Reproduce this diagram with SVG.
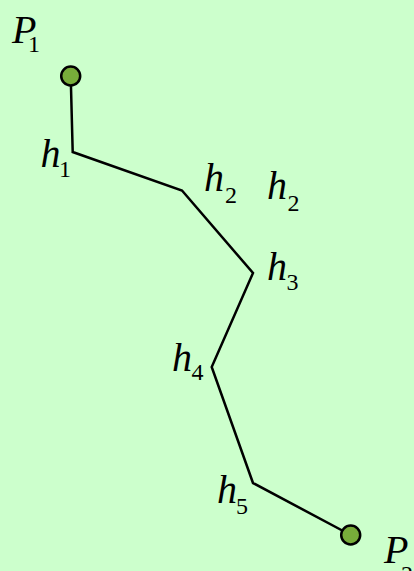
<svg xmlns="http://www.w3.org/2000/svg" width="414" height="571" viewBox="0 0 414 571">
<style>
.bg{fill:#CCFFCC}
.path{fill:none;stroke:#000;stroke-width:2.5;stroke-linejoin:miter}
.pt{fill:#78AD3A;stroke:#000;stroke-width:2.5}
.m{font-family:"Liberation Serif","Times New Roman",serif;font-style:italic;font-size:40px;fill:#000}
.s{font-family:"Liberation Serif","Times New Roman",serif;font-style:normal;font-size:24px;fill:#000}
</style>
<rect class="bg" x="0" y="0" width="414" height="571"/>
<g id="connectors">
<polyline class="path" points="70.7,76 72.7,152 182,190.5 253,273 211.7,367 253,483 350.7,535"/>
</g>
<g id="P1">
<circle class="pt" cx="70.7" cy="76" r="9.5"/>
<text class="m" x="12" y="42.5">P</text><text class="s" x="28" y="51.7">1</text>
</g>
<g id="P2">
<circle class="pt" cx="350.7" cy="535" r="9.5"/>
<text class="m" x="384" y="563.3">P</text><text class="s" x="401" y="581.7">2</text>
</g>
<g id="h1">
<text class="m" x="40.5" y="166.7">h</text><text class="s" x="59" y="176.7">1</text>
</g>
<g id="h2a">
<text class="m" x="204" y="191">h</text><text class="s" x="225" y="202.7">2</text>
</g>
<g id="h2b">
<text class="m" x="267" y="199.3">h</text><text class="s" x="287.5" y="211">2</text>
</g>
<g id="h3">
<text class="m" x="267" y="280">h</text><text class="s" x="286.5" y="290">3</text>
</g>
<g id="h4">
<text class="m" x="172" y="370.7">h</text><text class="s" x="191.5" y="380">4</text>
</g>
<g id="h5">
<text class="m" x="217" y="503.3">h</text><text class="s" x="236" y="514">5</text>
</g>
</svg>
